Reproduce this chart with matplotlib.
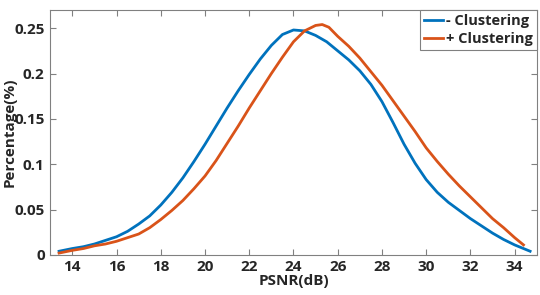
import matplotlib.pyplot as plt
import numpy as np

# PSNR distribution
psnr_minus = [13.4, 14, 14.5, 15, 15.5, 16, 16.5, 17, 17.5, 18, 18.5, 19, 19.5, 20, 20.5,
              21, 21.5, 22, 22.5, 23, 23.5, 24, 24.5, 25, 25.5, 26, 26.5, 27, 27.5, 28,
              28.5, 29, 29.5, 30, 30.5, 31, 31.5, 32, 32.5, 33, 33.5, 34, 34.7]
pct_minus = [0.004, 0.007, 0.009, 0.012, 0.016, 0.020, 0.026, 0.034, 0.043, 0.055, 0.069,
             0.085, 0.103, 0.122, 0.142, 0.162, 0.181, 0.199, 0.216, 0.231, 0.243, 0.248,
             0.247, 0.242, 0.235, 0.225, 0.215, 0.203, 0.188, 0.169, 0.146, 0.122, 0.101,
             0.083, 0.069, 0.058, 0.049, 0.040, 0.032, 0.024, 0.017, 0.011, 0.004]

psnr_plus = [13.4, 14, 14.5, 15, 15.5, 16, 16.5, 17, 17.5, 18, 18.5, 19, 19.5, 20, 20.5,
             21, 21.5, 22, 22.5, 23, 23.5, 24, 24.5, 25, 25.3, 25.6, 26, 26.5, 27, 27.5,
             28, 28.5, 29, 29.5, 30, 30.5, 31, 31.5, 32, 32.5, 33, 33.5, 34, 34.4]
pct_plus = [0.002, 0.005, 0.007, 0.010, 0.012, 0.015, 0.019, 0.023, 0.030, 0.039, 0.049,
            0.060, 0.073, 0.087, 0.104, 0.123, 0.142, 0.162, 0.181, 0.200, 0.218, 0.235,
            0.247, 0.253, 0.254, 0.251, 0.241, 0.230, 0.217, 0.202, 0.187, 0.170, 0.153,
            0.136, 0.118, 0.103, 0.089, 0.076, 0.064, 0.052, 0.040, 0.030, 0.019, 0.011]

labels = ['- Clustering', '+ Clustering']
xticks = [14, 16, 18, 20, 22, 24, 26, 28, 30, 32, 34]
yticks = [0, 0.05, 0.1, 0.15, 0.2, 0.25]
ytick_labels = ['0', '0.05', '0.1', '0.15', '0.2', '0.25']

plt.rcParams['font.family'] = ['Open Sans', 'DejaVu Sans']
plt.rcParams['font.weight'] = 'bold'

fig = plt.figure(figsize=(5.4, 2.95), dpi=100)
ax = fig.add_axes([0.093, 0.136, 0.901, 0.83])

ax.plot(psnr_minus, pct_minus, color='#0072BD', lw=2.0, label=labels[0])
ax.plot(psnr_plus, pct_plus, color='#D95319', lw=2.0, label=labels[1])

ax.set_xlim(13, 35)
ax.set_ylim(0, 0.27)
ax.set_xticks(xticks)
ax.set_yticks(yticks)
ax.set_yticklabels(ytick_labels)
ax.tick_params(direction='in', top=True, right=True, length=4, width=0.8,
               color='#808080', labelsize=11, pad=4)
for lab in ax.get_xticklabels() + ax.get_yticklabels():
    lab.set_fontweight('bold')
    lab.set_color('#262626')
for s in ax.spines.values():
    s.set_color('#808080')
    s.set_linewidth(0.8)

ax.set_xlabel('PSNR(dB)', fontsize=11, fontweight='bold', color='#262626', labelpad=0)
ax.set_ylabel('Percentage(%)', fontsize=11, fontweight='bold', color='#262626')
ax.yaxis.set_label_coords(-0.07, 0.5)

leg = ax.legend(loc='upper right', fancybox=False, framealpha=1, edgecolor='#808080',
                fontsize=10.5, handlelength=1.3, handletextpad=0.15, borderpad=0.3,
                labelspacing=0.25, borderaxespad=0)
leg.get_frame().set_linewidth(0.8)
for t in leg.get_texts():
    t.set_fontweight('bold')
    t.set_color('#262626')

fig.savefig('out.png', dpi=100)
